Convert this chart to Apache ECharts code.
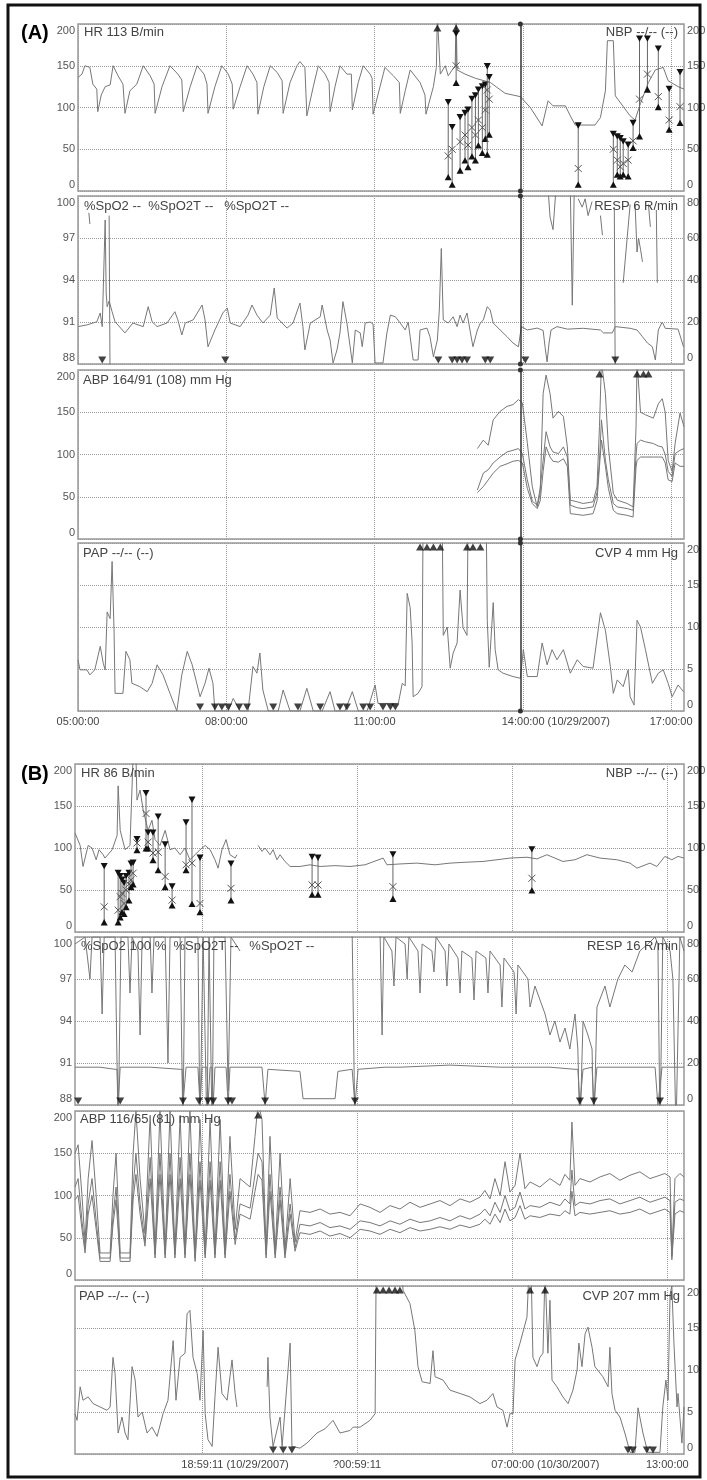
<!DOCTYPE html>
<html><head><meta charset="utf-8">
<script src="https://cdn.jsdelivr.net/npm/echarts@6/dist/echarts.min.js"></script>
<style>html,body{margin:0;padding:0;background:#fff}#c{width:707px;height:1480px}</style>
</head><body><div id="c"></div>
<script>
// ---------- tick labels ----------
const tickA = [0, 3, 6, 9, 12];
const tickLabelsA = ['05:00:00', '08:00:00', '11:00:00', '14:00:00 (10/29/2007)', '17:00:00'];
const tickB = [6, 12, 18.013, 24.013];
const tickLabelsB = ['18:59:11 (10/29/2007)', '?00:59:11', '07:00:00 (10/30/2007)', '13:00:00'];
const cursorA = 8.95;

// ---------- panel A (hours after 05:00) ----------
const hrA = [[0.00,136],[0.08,140],[0.14,150],[0.24,148],[0.30,128],[0.38,122],[0.40,95],[0.47,115],[0.55,125],[0.65,127],[0.71,150],[0.81,138],[0.91,128],[0.95,93],[1.05,120],[1.19,128],[1.32,150],[1.46,138],[1.54,128],[1.56,93],[1.70,125],[1.86,150],[2.02,140],[2.10,133],[2.13,95],[2.27,125],[2.41,150],[2.55,140],[2.61,128],[2.63,93],[2.77,125],[2.91,150],[3.04,140],[3.12,128],[3.14,98],[3.28,125],[3.42,150],[3.54,140],[3.62,130],[3.64,92],[3.76,125],[3.89,150],[4.03,142],[4.13,132],[4.15,93],[4.29,130],[4.43,150],[4.49,155],[4.59,148],[4.63,90],[4.76,125],[4.86,150],[5.00,140],[5.08,130],[5.10,95],[5.20,125],[5.30,150],[5.44,140],[5.53,140],[5.55,97],[5.67,130],[5.77,150],[5.91,140],[5.95,135],[5.97,92],[6.11,125],[6.21,148],[6.38,138],[6.50,130],[6.52,93],[6.62,120],[6.72,145],[6.92,130],[7.02,115],[7.04,92],[7.19,125],[7.25,148],[7.27,210],[7.29,210],[7.33,140],[7.43,150],[7.49,138],[7.57,145],[7.63,150],[7.65,210],[7.67,145],[7.83,140],[8.04,135],[8.34,130],[8.64,117],[8.95,113],[9.15,100],[9.39,78],[9.51,108],[9.61,102],[9.86,102],[9.96,90],[10.06,79],[10.46,79],[10.57,88],[10.67,120],[10.71,180],[10.83,180],[10.87,114],[11.17,90],[11.27,85],[11.38,105],[11.54,130],[11.68,145],[11.84,148],[11.94,132],[12.14,125],[12.26,122]];
const hrTopA = [7.27, 7.65];
const nbpA_t = [7.49,7.57,7.65,7.73,7.83,7.89,7.97,8.04,8.10,8.18,8.24,8.28,8.32,10.12,10.83,10.91,10.97,11.03,11.13,11.23,11.36,11.52,11.74,11.96,12.18];
const nbpA_sys = [106,76,188,88,93,97,110,114,121,125,127,149,136,78,68,65,63,59,55,81,182,182,170,122,142];
const nbpA_mean = [42,50,150,59,67,55,76,67,85,76,97,121,110,27,50,37,29,33,37,60,110,140,113,85,101];
const nbpA_dia = [17,8,130,25,37,29,42,37,55,46,63,44,68,8,8,20,18,20,18,52,66,122,101,74,82];

const respA = [[0.00,17.8],[0.18,18.6],[0.38,20.1],[0.45,24.3],[0.49,17.8],[0.55,68.6],[0.57,33.8],[0.59,27.3],[0.63,30],[0.69,24.9],[0.75,20.1],[0.95,14.8],[1.11,19.5],[1.32,17.8],[1.42,27.3],[1.50,20.1],[1.60,17.8],[1.80,19.5],[1.96,24.9],[2.02,21],[2.10,13.8],[2.17,19.5],[2.33,21],[2.51,28.1],[2.57,21],[2.63,8.2],[2.77,16.2],[2.93,24.3],[3.02,26.7],[3.08,19.5],[3.28,17.8],[3.44,23.3],[3.52,28.1],[3.62,23.3],[3.74,19.5],[3.89,23.3],[3.97,36.2],[4.03,21.9],[4.23,17.1],[4.35,19.5],[4.49,29],[4.55,17.8],[4.59,6.7],[4.70,19.5],[4.90,22.5],[4.94,28.1],[5.04,16.2],[5.10,11.4],[5.16,0.5],[5.24,6.7],[5.30,14.8],[5.36,29.7],[5.44,19.5],[5.55,0.5],[5.61,16.2],[5.71,14.8],[5.75,8.2],[5.81,19.5],[5.91,20],[5.97,19],[6.01,0.5],[6.17,0.5],[6.25,14.8],[6.32,23.3],[6.42,22.5],[6.52,19.5],[6.62,16.2],[6.68,20],[6.72,13],[6.78,1.9],[6.88,1.9],[6.92,16.2],[7.06,17.1],[7.12,13],[7.19,3.5],[7.27,11.4],[7.31,25.7],[7.35,55],[7.39,21],[7.49,19.5],[7.59,22.5],[7.67,17.8],[7.73,23.3],[7.79,19.5],[7.87,24.3],[7.93,16.2],[7.99,8.2],[8.08,16.2],[8.14,19.5],[8.20,21],[8.28,27.3],[8.34,25.7],[8.40,19.5],[8.54,16.2],[8.68,13],[8.80,10],[8.91,8.2],[8.97,17.8],[9.09,16.2],[9.29,17.1],[9.41,16],[9.45,8],[9.49,1],[9.53,10],[9.57,16.2],[9.69,17.8],[9.90,16.6],[10.22,17],[10.57,16.2],[10.63,14.8],[10.81,14.8],[10.87,17.8],[11.17,17],[11.31,16.2],[11.42,13],[11.52,10],[11.62,8.2],[11.68,1.9],[11.74,16.2],[11.82,20],[11.88,17],[12.14,16.6],[12.25,8.2]];
const spo2A = [[0.22,98.8],[0.24,98.0],[0.25,'-'],[0.63,98.6],[0.65,86],[0.66,'-'],[9.51,100.5],[9.55,98.5],[9.61,97.6],[9.67,100.5],[9.70,'-'],[9.96,100.5],[10.00,92.2],[10.04,100.5],[10.06,'-'],[10.12,99.8],[10.20,99.2],[10.26,99.8],[10.32,98.6],[10.40,99.6],[10.45,'-'],[10.57,98.6],[10.61,97.2],[10.65,'-'],[10.85,99.2],[10.87,86],[10.90,'-'],[11.03,93.8],[11.11,97],[11.17,99.4],[11.20,'-'],[11.27,99.4],[11.31,96],[11.34,97],[11.38,96.2],[11.42,95.3],[11.45,'-'],[11.54,99.4],[11.58,97.8],[11.60,'-'],[11.70,99],[11.72,93.8]];
const lowA = [0.49,2.98,7.29,7.57,7.67,7.77,7.87,8.24,8.34,9.05,10.87];

const abpA_t = [8.08,8.20,8.30,8.40,8.54,8.68,8.80,8.91,8.99,9.09,9.19,9.29,9.35,9.41,9.47,9.55,9.61,9.72,9.82,9.90,9.96,10.10,10.22,10.42,10.50,10.55,10.59,10.67,10.73,10.83,10.91,11.11,11.23,11.29,11.31,11.38,11.48,11.64,11.74,11.82,11.88,11.94,12.02,12.08,12.18,12.26];
const abpA_sys = [107,117,111,141,151,157,159,165,161,114,62,38,54,172,194,172,143,151,145,109,46,44,42,44,62,133,210,172,109,54,46,42,38,133,210,150,147,143,160,166,150,93,80,113,149,133];
const abpA_mean = [58,78,82,90,97,103,105,107,101,70,45,40,60,93,127,109,103,101,109,97,40,37,36,38,55,93,141,93,70,42,38,36,34,100,113,117,115,113,110,109,100,80,74,101,105,107];
const abpA_dia = [55,62,70,78,86,89,92,93,90,60,42,36,45,80,109,97,92,91,95,86,30,29,28,30,45,86,117,86,60,34,30,28,26,85,93,97,97,97,97,97,90,70,68,90,86,86];
const abpTopA = [10.55,11.31,11.44,11.54];

const cvpA = [[0.00,6.1],[0.04,4.9],[0.18,4.9],[0.24,4.3],[0.34,4.9],[0.45,7.7],[0.51,5.7],[0.55,4.9],[0.59,11.8],[0.65,11.0],[0.69,17.8],[0.71,18.0],[0.73,9.4],[0.75,2.1],[0.91,2.1],[0.97,7.1],[1.05,6.1],[1.09,3.3],[1.25,2.9],[1.40,2.3],[1.50,3.3],[1.60,5.5],[1.72,4.3],[1.86,2.1],[2.00,0],[2.10,4.3],[2.21,7.1],[2.31,5.5],[2.47,1.7],[2.57,3.3],[2.65,5.1],[2.73,3.3],[2.77,0],[3.04,0],[3.14,1.5],[3.28,0],[3.44,0],[3.54,5.3],[3.62,4.5],[3.68,6.9],[3.74,2.5],[3.85,0],[4.05,0],[4.15,2.5],[4.29,0],[4.49,0],[4.63,2.7],[4.76,0],[4.94,0],[5.10,2.3],[5.20,0],[5.40,0],[5.55,2.3],[5.67,0],[5.85,0],[6.01,3.1],[6.07,0.9],[6.48,0.9],[6.56,3.3],[6.62,3.0],[6.66,14.0],[6.72,12.3],[6.76,8.1],[6.78,1.7],[6.88,2.1],[6.96,2.9],[6.98,22],[7.37,22],[7.39,9.0],[7.47,10.0],[7.53,5.1],[7.59,6.9],[7.67,8.1],[7.73,14.4],[7.79,9.9],[7.87,9.0],[7.89,22],[8.26,22],[8.28,10.8],[8.32,5.2],[8.40,12.9],[8.44,7.3],[8.50,4.9],[8.60,4.5],[8.80,4.1],[8.95,3.9],[9.01,7.3],[9.09,4.1],[9.29,4.1],[9.39,8.1],[9.49,5.5],[9.59,7.3],[9.69,6.1],[9.82,7.3],[9.96,4.5],[10.10,6.1],[10.22,5.3],[10.42,5.1],[10.57,11.7],[10.67,9.6],[10.77,5.3],[10.83,2.1],[10.91,3.7],[11.03,2.9],[11.13,4.9],[11.17,1.7],[11.25,0.7],[11.31,10.8],[11.38,10.0],[11.48,7.3],[11.62,3.3],[11.74,4.5],[11.84,4.9],[11.94,3.3],[12.02,1.7],[12.14,3.1],[12.25,2.3]];
const cvpTopA = [6.92,7.06,7.19,7.33,7.87,7.99,8.14];
const cvpLowA = [2.47,2.77,2.91,3.04,3.26,3.42,3.95,4.45,4.90,5.30,5.44,5.77,5.91,6.17,6.32,6.42];

// ---------- panel B (hours after 12:59:11 on 10/29) ----------
const hrB = [[1.08,118],[1.28,103],[1.39,78],[1.59,103],[1.74,100],[1.90,86],[2.01,98],[2.17,92],[2.24,88],[2.52,98],[2.71,115],[2.75,174],[2.83,121],[3.02,98],[3.21,103],[3.33,210],[3.44,210],[3.48,157],[3.60,169],[3.72,145],[3.91,121],[4.06,133],[4.18,110],[4.37,103],[4.57,121],[4.76,98],[4.95,100],[5.15,92],[5.34,100],[5.53,86],[5.73,92],[5.92,98],[6.12,103],[6.31,98],[6.50,86],[6.62,76],[6.77,98],[6.93,110],[7.08,92],[7.28,88],[7.35,92],[7.50,'-'],[8.17,103],[8.32,96],[8.44,100],[8.63,92],[8.75,98],[8.90,86],[9.02,92],[9.21,84],[9.41,78],[9.79,78],[10.18,80],[10.57,78],[11.15,79],[11.73,78],[12.31,80],[13.01,88],[13.16,80],[13.66,81],[14.32,82],[15.02,80],[15.60,82],[16.18,83],[16.88,84],[17.42,86],[17.92,88],[18.58,89],[18.97,87],[19.35,92],[19.66,88],[19.97,84],[20.44,86],[20.90,92],[21.41,88],[22.06,86],[22.57,82],[22.84,76],[23.34,82],[23.61,78],[23.92,90],[24.19,86],[24.43,90],[24.66,88]];
const nbpB_t = [2.21,2.75,2.83,2.90,2.98,3.06,3.17,3.25,3.33,3.48,3.83,3.91,4.10,4.30,4.57,4.84,5.38,5.61,5.92,7.12,10.26,10.49,13.39,18.77];
const nbpB_sys = [78,70,66,62,58,66,70,81,82,110,165,118,118,137,104,54,130,157,88,81,89,88,92,98];
const nbpB_mean = [30,26,42,46,34,50,57,62,70,106,141,107,94,95,66,38,80,82,34,52,56,56,54,64];
const nbpB_dia = [12,12,18,24,22,30,38,54,57,98,100,100,86,74,54,32,74,34,24,38,45,45,40,50];

const respB = [[1.08,18],[2.05,18],[2.63,17],[2.71,17],[2.75,0],[2.83,18],[3.99,18],[5.15,17],[5.23,17],[5.26,0],[5.38,18],[5.84,18],[5.92,0],[6.00,18],[6.19,18],[6.23,0],[6.31,18],[6.39,18],[6.43,0],[6.50,18],[6.93,18],[7.01,0],[7.08,18],[8.32,18],[8.44,0],[8.55,17],[9.79,16],[9.91,3],[11.15,3],[11.26,16],[11.81,17],[11.92,0],[12.04,17],[13.08,18],[13.66,18],[15.60,19],[17.54,18],[19.47,18],[20.44,17],[20.55,17],[20.63,0],[20.75,17],[21.10,18],[21.17,0],[21.29,18],[23.54,18],[23.65,0],[23.81,18],[24.66,18]];
const spo2B = [[1.08,99.5],[1.47,100],[1.66,97],[1.74,100],[2.05,100],[2.13,94.5],[2.21,100],[2.63,100],[2.75,86],[2.86,100],[3.13,100],[3.21,96],[3.29,100],[3.52,99],[3.60,93],[3.68,100],[3.99,100],[4.06,96],[4.14,100],[4.57,100],[4.68,91],[4.76,100],[5.15,100],[5.26,86],[5.34,100],[5.84,100],[5.92,86],[6.04,100],[6.19,86],[6.27,100],[6.39,86],[6.46,100],[6.89,100],[7.01,89],[7.12,100],[7.47,99],[7.60,'-'],[11.81,100.5],[11.92,86],[12.00,'-'],
  [12.89,100.5],[12.97,93],[13.04,100],[13.35,99],[13.43,96.5],[13.51,100],[13.86,99.5],[13.94,97],[14.01,100],[14.36,99],[14.44,96],[14.52,99.5],[14.90,99],[14.98,97.5],[15.06,100],[15.41,99],[15.48,96.5],[15.56,99.5],[15.91,98.5],[15.99,96],[16.06,99],[16.45,98.5],[16.53,95.5],[16.61,99],[16.99,98.5],[17.07,96],[17.15,99],[17.54,98],[17.61,95],[17.69,98.5],[18.08,97.5],[18.16,94.5],[18.23,98],[18.62,97],[18.70,95],[18.89,96.5],[19.28,94.5],[19.47,93],[19.66,94],[19.86,92.5],[20.05,93.5],[20.24,92],[20.44,94.5],[20.55,92],[20.63,86],[20.75,94],[20.94,93],[21.10,92],[21.17,86],[21.29,95],[21.60,96.5],[21.79,95],[22.10,97],[22.37,98],[22.65,97.5],[22.95,99],[23.26,99.5],[23.54,100],[23.65,99.5],[23.73,86],[23.84,100],[24.12,99],[24.23,97],[24.35,86],[24.50,100],[24.66,99]];
const lowB = [1.20,2.83,5.26,5.88,6.23,6.43,7.01,7.16,8.44,11.92,20.63,21.17,23.73];

const abpB_t = [1.08,1.20,1.35,1.47,1.59,1.74,1.90,2.05,2.44,2.55,2.67,2.83,3.21,3.33,3.44,3.60,3.79,3.99,4.18,4.37,4.57,4.76,4.95,5.15,5.34,5.53,5.73,5.92,6.12,6.31,6.50,6.70,6.89,7.08,7.28,7.47,7.86,8.05,8.17,8.32,8.48,8.63,8.83,9.02,9.21,9.41,9.60,
  9.79,10.18,10.57,10.95,11.34,11.73,12.12,12.50,12.89,13.28,13.66,14.05,14.44,14.83,15.21,15.60,15.99,16.37,16.76,16.95,17.15,17.34,17.54,17.73,17.92,18.12,18.31,18.50,18.70,19.08,19.47,19.86,20.05,20.24,20.32,20.44,20.63,21.02,21.41,21.79,22.18,22.57,22.95,23.34,23.73,23.92,24.12,24.19,24.31,24.50,24.66];
const abpB_sys = [150,160,100,45,120,165,100,32,32,100,150,32,32,150,200,120,55,195,35,200,35,200,35,195,35,200,30,190,35,190,35,190,36,170,60,120,110,170,210,190,35,170,35,150,35,120,45,
  82,80,84,78,80,76,90,86,80,88,84,92,86,90,94,88,96,92,98,106,96,120,100,140,104,112,150,108,116,110,120,112,125,118,187,112,120,116,122,126,118,124,128,120,124,126,122,30,120,126,122];
const abpB_mean = [110,120,70,38,90,120,70,26,26,75,110,26,26,110,150,90,45,145,30,150,30,150,30,145,30,150,26,140,30,140,30,140,30,125,48,90,85,125,150,140,30,125,30,110,30,90,38,
  66,64,68,62,64,60,70,68,64,70,66,72,68,70,74,70,76,72,78,84,76,92,80,100,82,86,104,84,88,86,92,88,96,90,130,88,92,90,94,96,90,94,98,92,96,98,94,28,92,96,94];
const abpB_dia = [95,100,60,32,78,100,60,22,22,65,95,22,22,95,125,78,40,120,26,125,26,125,26,120,26,125,22,118,26,118,26,118,26,105,42,78,72,105,125,118,26,105,26,95,26,78,34,
  56,54,58,52,55,50,60,58,54,60,56,62,58,60,63,60,65,62,66,72,66,78,68,84,70,74,88,72,76,74,78,76,82,78,105,76,80,78,80,82,78,80,84,78,82,84,80,24,78,82,80];
const abpTopB = [8.17];

const cvpB = [[1.08,4.8],[1.16,4.0],[1.28,8.0],[1.39,6.4],[1.59,6.8],[1.78,6.0],[2.05,5.6],[2.32,5.2],[2.44,5.6],[2.55,11.5],[2.63,9.6],[2.75,2.5],[2.90,4.4],[3.02,2.5],[3.13,1.7],[3.29,10.4],[3.41,8.8],[3.52,4.4],[3.68,5.0],[3.87,2.5],[4.06,3.2],[4.26,2.1],[4.49,4.8],[4.68,6.4],[4.88,13.5],[4.99,6.4],[5.15,11.5],[5.34,12.0],[5.42,16.7],[5.53,17.1],[5.65,11.5],[5.81,9.6],[5.92,6.4],[6.04,14.7],[6.12,4.8],[6.23,1.7],[6.39,0.9],[6.50,6.8],[6.62,12.7],[6.77,7.2],[6.97,6.4],[7.16,11.2],[7.28,7.2],[7.35,5.6],[7.50,'-'],[8.52,8.0],[8.55,11.5],[8.63,4.4],[8.75,0.9],[9.02,4.4],[9.10,0.9],[9.41,13.2],[9.48,0.9],[9.79,0.7],[10.06,1.3],[10.45,2.5],[10.76,3.0],[11.07,4.0],[11.34,2.5],[11.73,2.8],[11.85,3.2],[12.12,3.2],[12.50,4.0],[12.70,4.8],[12.74,22],[13.74,22],[13.78,19.5],[14.05,17.9],[14.24,14.7],[14.36,10.4],[14.52,8.6],[14.83,8.4],[14.94,12.3],[15.02,9.2],[15.33,8.8],[15.60,7.6],[15.99,7.2],[16.37,6.8],[16.76,6.0],[17.03,6.4],[17.26,7.2],[17.42,5.6],[17.65,5.2],[17.81,3.2],[17.92,4.8],[18.04,4.8],[18.12,11.2],[18.31,13.2],[18.58,16.3],[18.66,22],[18.74,22],[18.81,11.5],[18.97,10.4],[19.08,11.5],[19.20,12.0],[19.28,22],[19.35,22],[19.39,12],[19.47,18.3],[19.55,8.8],[19.74,8.0],[19.97,6.8],[20.17,6.0],[20.36,7.6],[20.52,10.0],[20.59,13.2],[20.71,10.4],[20.83,14.3],[20.94,15.1],[21.10,12.7],[21.21,10.4],[21.52,9.2],[21.72,8.0],[21.79,12.7],[21.87,7.2],[21.99,5.2],[22.18,4.4],[22.37,2.5],[22.57,0.2],[22.76,0.2],[22.88,5.5],[23.07,2.5],[23.26,0.2],[23.73,0.2],[23.84,5.6],[23.96,8.8],[24.04,6.4],[24.12,19],[24.19,20],[24.27,13.2],[24.39,5.6],[24.43,7.2],[24.58,1.3],[24.66,5.6]];
const cvpTopB = [12.77,13.01,13.24,13.47,13.66,18.70,19.28];
const cvpLowB = [8.75,9.14,9.48,22.49,22.68,23.22,23.46];

// ---------- builders ----------
const TRACE = '#777';
const FONT = 'Liberation Sans, Arial, sans-serif';
function lbl(ticks, labels) {
  return function (v) {
    for (let i = 0; i < ticks.length; i++) {
      if (Math.abs(v - ticks[i]) < 0.02) {
        const s = labels[i];
        return s.indexOf(' (') > 0 ? '{d|' + s + '}' : s;
      }
    }
    return '';
  };
}
function xAx(grid, ticks, labels, min, max, show) {
  return {
    type: 'value', gridIndex: grid, min: min, max: max,
    axisLine: { show: false },
    axisTick: { show: false, customValues: ticks },
    axisLabel: { show: show, customValues: ticks, formatter: lbl(ticks, labels), fontSize: 11, fontFamily: FONT, color: '#444', margin: 5,
      rich: { d: { padding: [0, 0, 0, 66], fontSize: 11, fontFamily: FONT, color: '#444' } } },
    splitLine: { show: true, lineStyle: { type: 'dotted', color: '#999', width: 1 } }
  };
}
function yAx(grid, min, max, interval, pos, showLabel, split) {
  return {
    type: 'value', gridIndex: grid, min: min, max: max, interval: interval, position: pos,
    axisLine: { show: false }, axisTick: { show: false },
    axisLabel: { show: showLabel, fontSize: 11, fontFamily: FONT, color: '#555', margin: 3,
      formatter: function (v) {
        if (v === max) return '{mx|' + v + '}';
        if (v === min) return '{mn|' + v + '}';
        return String(v);
      },
      rich: {
        mx: { padding: [13, 0, 0, 0], fontSize: 11, fontFamily: FONT, color: '#555' },
        mn: { padding: [0, 0, 12, 0], fontSize: 11, fontFamily: FONT, color: '#555' }
      } },
    splitLine: { show: split, lineStyle: { type: 'dotted', color: '#999', width: 1 } }
  };
}
function line(x, y, data, extra) {
  return Object.assign({ type: 'line', xAxisIndex: x, yAxisIndex: y, data: data, symbol: 'none', showSymbol: false,
    lineStyle: { color: TRACE, width: 1 }, silent: true, animation: false, z: 3 }, extra || {});
}
function zip(t, v) { return t.map(function (x, i) { return [x, v[i]]; }); }
function marks(x, y, times, val, down) {
  return { type: 'scatter', xAxisIndex: x, yAxisIndex: y, data: times.map(function (t) { return [t, val]; }),
    symbol: 'triangle', symbolSize: [8, 7], symbolRotate: down ? 180 : 0, symbolOffset: [0, down ? -4 : 4],
    itemStyle: { color: '#111' }, silent: true, animation: false, z: 6 };
}
function cursor(t) {
  return { silent: true, animation: false, symbol: ['circle', 'circle'], symbolSize: 5, label: { show: false },
    lineStyle: { color: '#333', width: 1.5, type: 'solid' }, data: [{ xAxis: t }] };
}
function nbp(x, y, t, s, m, d) {
  return {
    type: 'custom', xAxisIndex: x, yAxisIndex: y, clip: true, silent: true, animation: false, z: 5,
    data: t.map(function (v, i) { return [v, s[i], m[i], d[i]]; }),
    renderItem: function (params, api) {
      const ps = api.coord([api.value(0), api.value(1)]);
      const pm = api.coord([api.value(0), api.value(2)]);
      const pd = api.coord([api.value(0), api.value(3)]);
      const r = 3.5, k = 3.5;
      return { type: 'group', children: [
        { type: 'line', shape: { x1: ps[0], y1: ps[1], x2: pd[0], y2: pd[1] }, style: { stroke: '#666', lineWidth: 1 } },
        { type: 'polygon', shape: { points: [[ps[0] - r, ps[1] - r], [ps[0] + r, ps[1] - r], [ps[0], ps[1] + r * 0.8]] }, style: { fill: '#111' } },
        { type: 'polygon', shape: { points: [[pd[0] - r, pd[1] + r], [pd[0] + r, pd[1] + r], [pd[0], pd[1] - r * 0.8]] }, style: { fill: '#111' } },
        { type: 'line', shape: { x1: pm[0] - k, y1: pm[1] - k, x2: pm[0] + k, y2: pm[1] + k }, style: { stroke: '#555', lineWidth: 1 } },
        { type: 'line', shape: { x1: pm[0] - k, y1: pm[1] + k, x2: pm[0] + k, y2: pm[1] - k }, style: { stroke: '#555', lineWidth: 1 } }
      ] };
    }
  };
}
function txt(x, y, s, align, size, bold) {
  return { type: 'text', x: x, y: y, silent: true, z: 20,
    style: { text: s, fill: bold ? '#000' : '#444', align: align, verticalAlign: 'middle',
      font: (bold ? 'bold ' : '') + size + 'px ' + FONT } };
}

const gridBox = { show: true, borderColor: '#999', borderWidth: 1.5, backgroundColor: 'transparent', outerBoundsMode: 'none' };
function grid(left, top, height) { return Object.assign({ left: left, right: 23, top: top, height: height }, gridBox); }

const option = {
  animation: false,
  backgroundColor: '#fff',
  grid: [grid(78, 24, 167), grid(78, 196, 168), grid(78, 370, 169), grid(78, 543, 168),
         grid(75, 764, 168), grid(75, 937, 168), grid(75, 1111, 169), grid(75, 1286, 168)],
  xAxis: [
    xAx(0, tickA, tickLabelsA, 0, 12.26, false), xAx(1, tickA, tickLabelsA, 0, 12.26, false),
    xAx(2, tickA, tickLabelsA, 0, 12.26, false), xAx(3, tickA, tickLabelsA, 0, 12.26, true),
    xAx(4, tickB, tickLabelsB, 1.08, 24.66, false), xAx(5, tickB, tickLabelsB, 1.08, 24.66, false),
    xAx(6, tickB, tickLabelsB, 1.08, 24.66, false), xAx(7, tickB, tickLabelsB, 1.08, 24.66, true)
  ],
  yAxis: [
    yAx(0, 0, 200, 50, 'left', true, true),   // 0 HR A
    yAx(0, 0, 200, 50, 'right', true, false), // 1 NBP A
    yAx(1, 88, 100, 3, 'left', true, true),   // 2 SpO2 A
    yAx(1, 0, 80, 20, 'right', true, false),  // 3 RESP A
    yAx(2, 0, 200, 50, 'left', true, true),   // 4 ABP A
    yAx(3, 0, 20, 5, 'right', true, true),    // 5 CVP A
    yAx(4, 0, 200, 50, 'left', true, true),   // 6 HR B
    yAx(4, 0, 200, 50, 'right', true, false), // 7 NBP B
    yAx(5, 88, 100, 3, 'left', true, true),   // 8 SpO2 B
    yAx(5, 0, 80, 20, 'right', true, false),  // 9 RESP B
    yAx(6, 0, 200, 50, 'left', true, true),   // 10 ABP B
    yAx(7, 0, 20, 5, 'right', true, true)     // 11 CVP B
  ],
  series: [
    line(0, 0, hrA, { markLine: cursor(cursorA) }),
    marks(0, 0, hrTopA, 200, false),
    nbp(0, 1, nbpA_t, nbpA_sys, nbpA_mean, nbpA_dia),
    line(1, 3, respA, { markLine: cursor(cursorA) }),
    line(1, 2, spo2A),
    marks(1, 3, lowA, 0, true),
    line(2, 4, zip(abpA_t, abpA_sys), { markLine: cursor(cursorA) }),
    line(2, 4, zip(abpA_t, abpA_mean)),
    line(2, 4, zip(abpA_t, abpA_dia)),
    marks(2, 4, abpTopA, 200, false),
    line(3, 5, cvpA, { markLine: cursor(cursorA) }),
    marks(3, 5, cvpTopA, 20, false),
    marks(3, 5, cvpLowA, 0, true),
    line(4, 6, hrB),
    nbp(4, 7, nbpB_t, nbpB_sys, nbpB_mean, nbpB_dia),
    line(5, 9, respB),
    line(5, 8, spo2B),
    marks(5, 9, lowB, 0, true),
    line(6, 10, zip(abpB_t, abpB_sys)),
    line(6, 10, zip(abpB_t, abpB_mean)),
    line(6, 10, zip(abpB_t, abpB_dia)),
    marks(6, 10, abpTopB, 200, false),
    line(7, 11, cvpB),
    marks(7, 11, cvpTopB, 20, false),
    marks(7, 11, cvpLowB, 0, true)
  ],
  graphic: [
    { type: 'rect', shape: { x: 8, y: 5, width: 692, height: 1472 }, style: { fill: 'none', stroke: '#111', lineWidth: 3 }, silent: true, z: 30 },
    txt(21, 33, '(A)', 'left', 20, true),
    txt(21, 774, '(B)', 'left', 20, true),
    txt(84, 32, 'HR 113 B/min', 'left', 13),
    txt(678, 32, 'NBP --/-- (--)', 'right', 13),
    txt(84, 206, '%SpO2 --  %SpO2T --   %SpO2T --', 'left', 13),
    txt(678, 206, 'RESP 6 R/min', 'right', 13),
    txt(83, 380, 'ABP 164/91 (108) mm Hg', 'left', 13),
    txt(83, 553, 'PAP --/-- (--)', 'left', 13),
    txt(678, 553, 'CVP 4 mm Hg', 'right', 13),
    txt(81, 773, 'HR 86 B/min', 'left', 13),
    txt(678, 773, 'NBP --/-- (--)', 'right', 13),
    txt(81, 946, '%SpO2 100 %  %SpO2T --   %SpO2T --', 'left', 13),
    txt(678, 946, 'RESP 16 R/min', 'right', 13),
    txt(80, 1119, 'ABP 116/65 (81) mm Hg', 'left', 13),
    txt(79, 1296, 'PAP --/-- (--)', 'left', 13),
    txt(680, 1296, 'CVP 207 mm Hg', 'right', 13)
  ]
};
const chart = echarts.init(document.getElementById('c'), null, { renderer: 'canvas', width: 707, height: 1480 });
chart.setOption(option);
</script>
</body></html>
